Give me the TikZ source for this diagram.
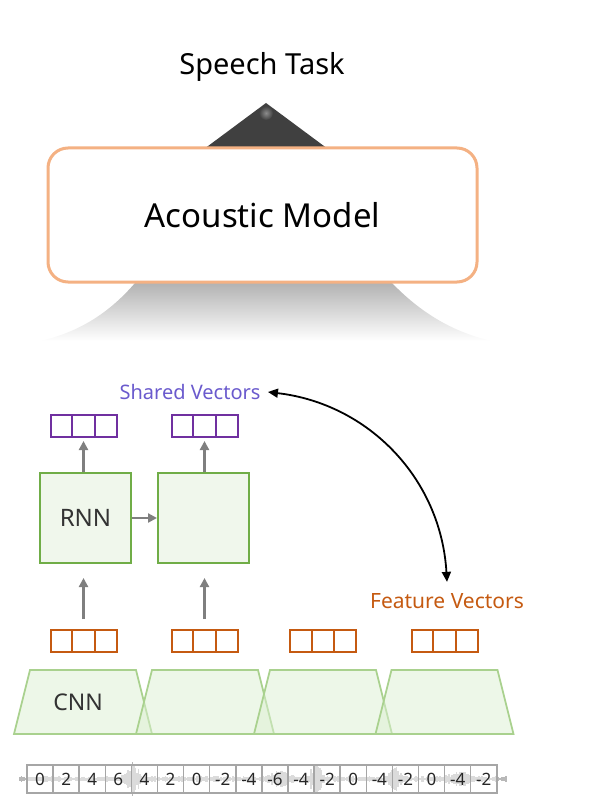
\documentclass[tikz,border=0pt]{standalone}
\usepackage{fontspec}
\setmainfont{Noto Sans}
\usetikzlibrary{calc,arrows.meta}
\definecolor{modelorange}{HTML}{F4B183}
\definecolor{featorange}{HTML}{C55A11}
\definecolor{sharedpurple}{HTML}{7030A0}
\definecolor{sharedtext}{HTML}{6A5ACD}
\definecolor{rnngreen}{HTML}{70AD47}
\definecolor{rnnfill}{HTML}{F0F7EC}
\definecolor{cnnline}{HTML}{A9D18E}
\definecolor{cnnfill}{HTML}{DCEFD2}
\definecolor{tridark}{HTML}{404040}
\definecolor{flowgray}{HTML}{7F7F7F}
\definecolor{cellgray}{HTML}{A6A6A6}
\tikzset{
  fsize/.style={font=\fontsize{#1}{#1}\selectfont},
  modelbox/.style={draw=modelorange, line width=3pt, fill=white, rounded corners=20pt,
    minimum width=429pt, minimum height=134pt, fsize=33},
  rnnbox/.style={draw=rnngreen, line width=2pt, fill=rnnfill, minimum width=91pt,
    minimum height=90pt, fsize=24, text=black!80},
  vecbox/.style={draw=#1, line width=2pt, minimum width=66pt, minimum height=22pt, inner sep=0pt},
  flow/.style={flowgray, line width=2.2pt, -{Triangle[length=9pt,width=9pt]}},
  cellbox/.style={draw=cellgray, line width=1.5pt, fill=white, fill opacity=0.5, text opacity=1,
    minimum width=26.1pt, minimum height=28pt, inner sep=0pt, fsize=17, text=black!85},
  wave/.style={black!28, line width=1.2pt},
}
% three cells in one vector
\def\cellvec[#1](#2)#3{%
  \node[vecbox=#1] (#3) at (#2) {};
  \draw[#1, line width=2pt] ($(#3.north west)!1/3!(#3.north east)$) -- ($(#3.south west)!1/3!(#3.south east)$);
  \draw[#1, line width=2pt] ($(#3.north west)!2/3!(#3.north east)$) -- ($(#3.south west)!2/3!(#3.south east)$);}

\begin{document}
\begin{tikzpicture}[x=1pt, y=-1pt]
			%%%%% START %%%%%
			\useasboundingbox (0, 0) rectangle (597, 810);
			
			\node[fsize=29] (task) at (262, 67) {Speech Task};
			
			% cone
			\fill[tridark] (266, 103) -- (200, 152) -- (332, 152) -- cycle;
			\shade[inner color=black!45, outer color=tridark] (266, 113) circle (7pt);
			\shade[top color=black!30, bottom color=white] (135, 283) .. controls (110, 312) and (80, 332) .. (40, 341) -- (492, 341) .. controls (452, 332) and (420, 312) .. (392, 283) -- cycle;
			
			\node[modelbox] (model) at (262.5, 215) {Acoustic Model};
			
			% rnn part
			\node[fsize=20, text=sharedtext] (shared) at (190, 392) {Shared Vectors};
			\cellvec[sharedpurple](83.5, 426){sv1}
			\cellvec[sharedpurple](204.5, 426){sv2}
			
			\node[rnnbox] (rnn1) at (85.5, 518) {RNN};
			\node[rnnbox] (rnn2) at (203.5, 518) {};
			
			\draw[flow] (rnn1.north -| sv1) -- ([yshift=-3pt]sv1.south);
			\draw[flow] (rnn2.north -| sv2) -- ([yshift=-3pt]sv2.south);
			\draw[flow] (rnn1.east) -- (rnn2.west);
			
			\node[fsize=21, text=featorange] (feature) at (447, 601) {Feature Vectors};
			\cellvec[featorange](83.5, 641){fv1}
			\cellvec[featorange](204.5, 641){fv2}
			\cellvec[featorange](323, 641){fv3}
			\cellvec[featorange](444.5, 641){fv4}
			
			\draw[flow] ([yshift=10pt]fv1.north) -- ([yshift=-14pt]rnn1.south -| fv1);
			\draw[flow] ([yshift=10pt]fv2.north) -- ([yshift=-14pt]rnn2.south -| fv2);
			
			\draw[line width=1.8pt, {Triangle[length=10pt,width=9pt]}-{Triangle[length=10pt,width=9pt]}] ([xshift=4pt]shared.east) to[bend left=40] ([yshift=8pt]feature.north);
			
			% cnn part
			\foreach \cx in {83, 205, 323, 444.5}
				\draw[cnnline, line width=1.8pt, fill=cnnfill, fill opacity=0.5] (\cx-69, 734) -- (\cx-53, 670) -- (\cx+53, 670) -- (\cx+69, 734) -- cycle;
			\node[fsize=23, text=black!80] (cnn) at (78, 702) {CNN};
			
			% waveform and samples
			\pgfmathsetseed{11}
			\foreach \x in {20, 21.5, ..., 506} {
				\pgfmathsetmacro{\amp}{(3 + 15*exp(-((\x-133)/7)^2) + 14*exp(-((\x-316)/6)^2) + 13*exp(-((\x-394)/6)^2) + 7*exp(-((\x-280)/10)^2) + 6*exp(-((\x-460)/12)^2))*(0.4+0.6*rnd)}
				\draw[wave] (\x, 779-\amp) -- (\x, 779+\amp);
			}
			\foreach \v [count=\i] in {0, 2, 4, 6, 4, 2, 0, -2, -4, -6, -4, -2, 0, -4, -2, 0, -4, -2}
				\node[cellbox] (s\i) at ({27+13.05+(\i-1)*26.1}, 779) {\v};
			
			%%%%% END %%%%%
		\end{tikzpicture}
\end{document}
